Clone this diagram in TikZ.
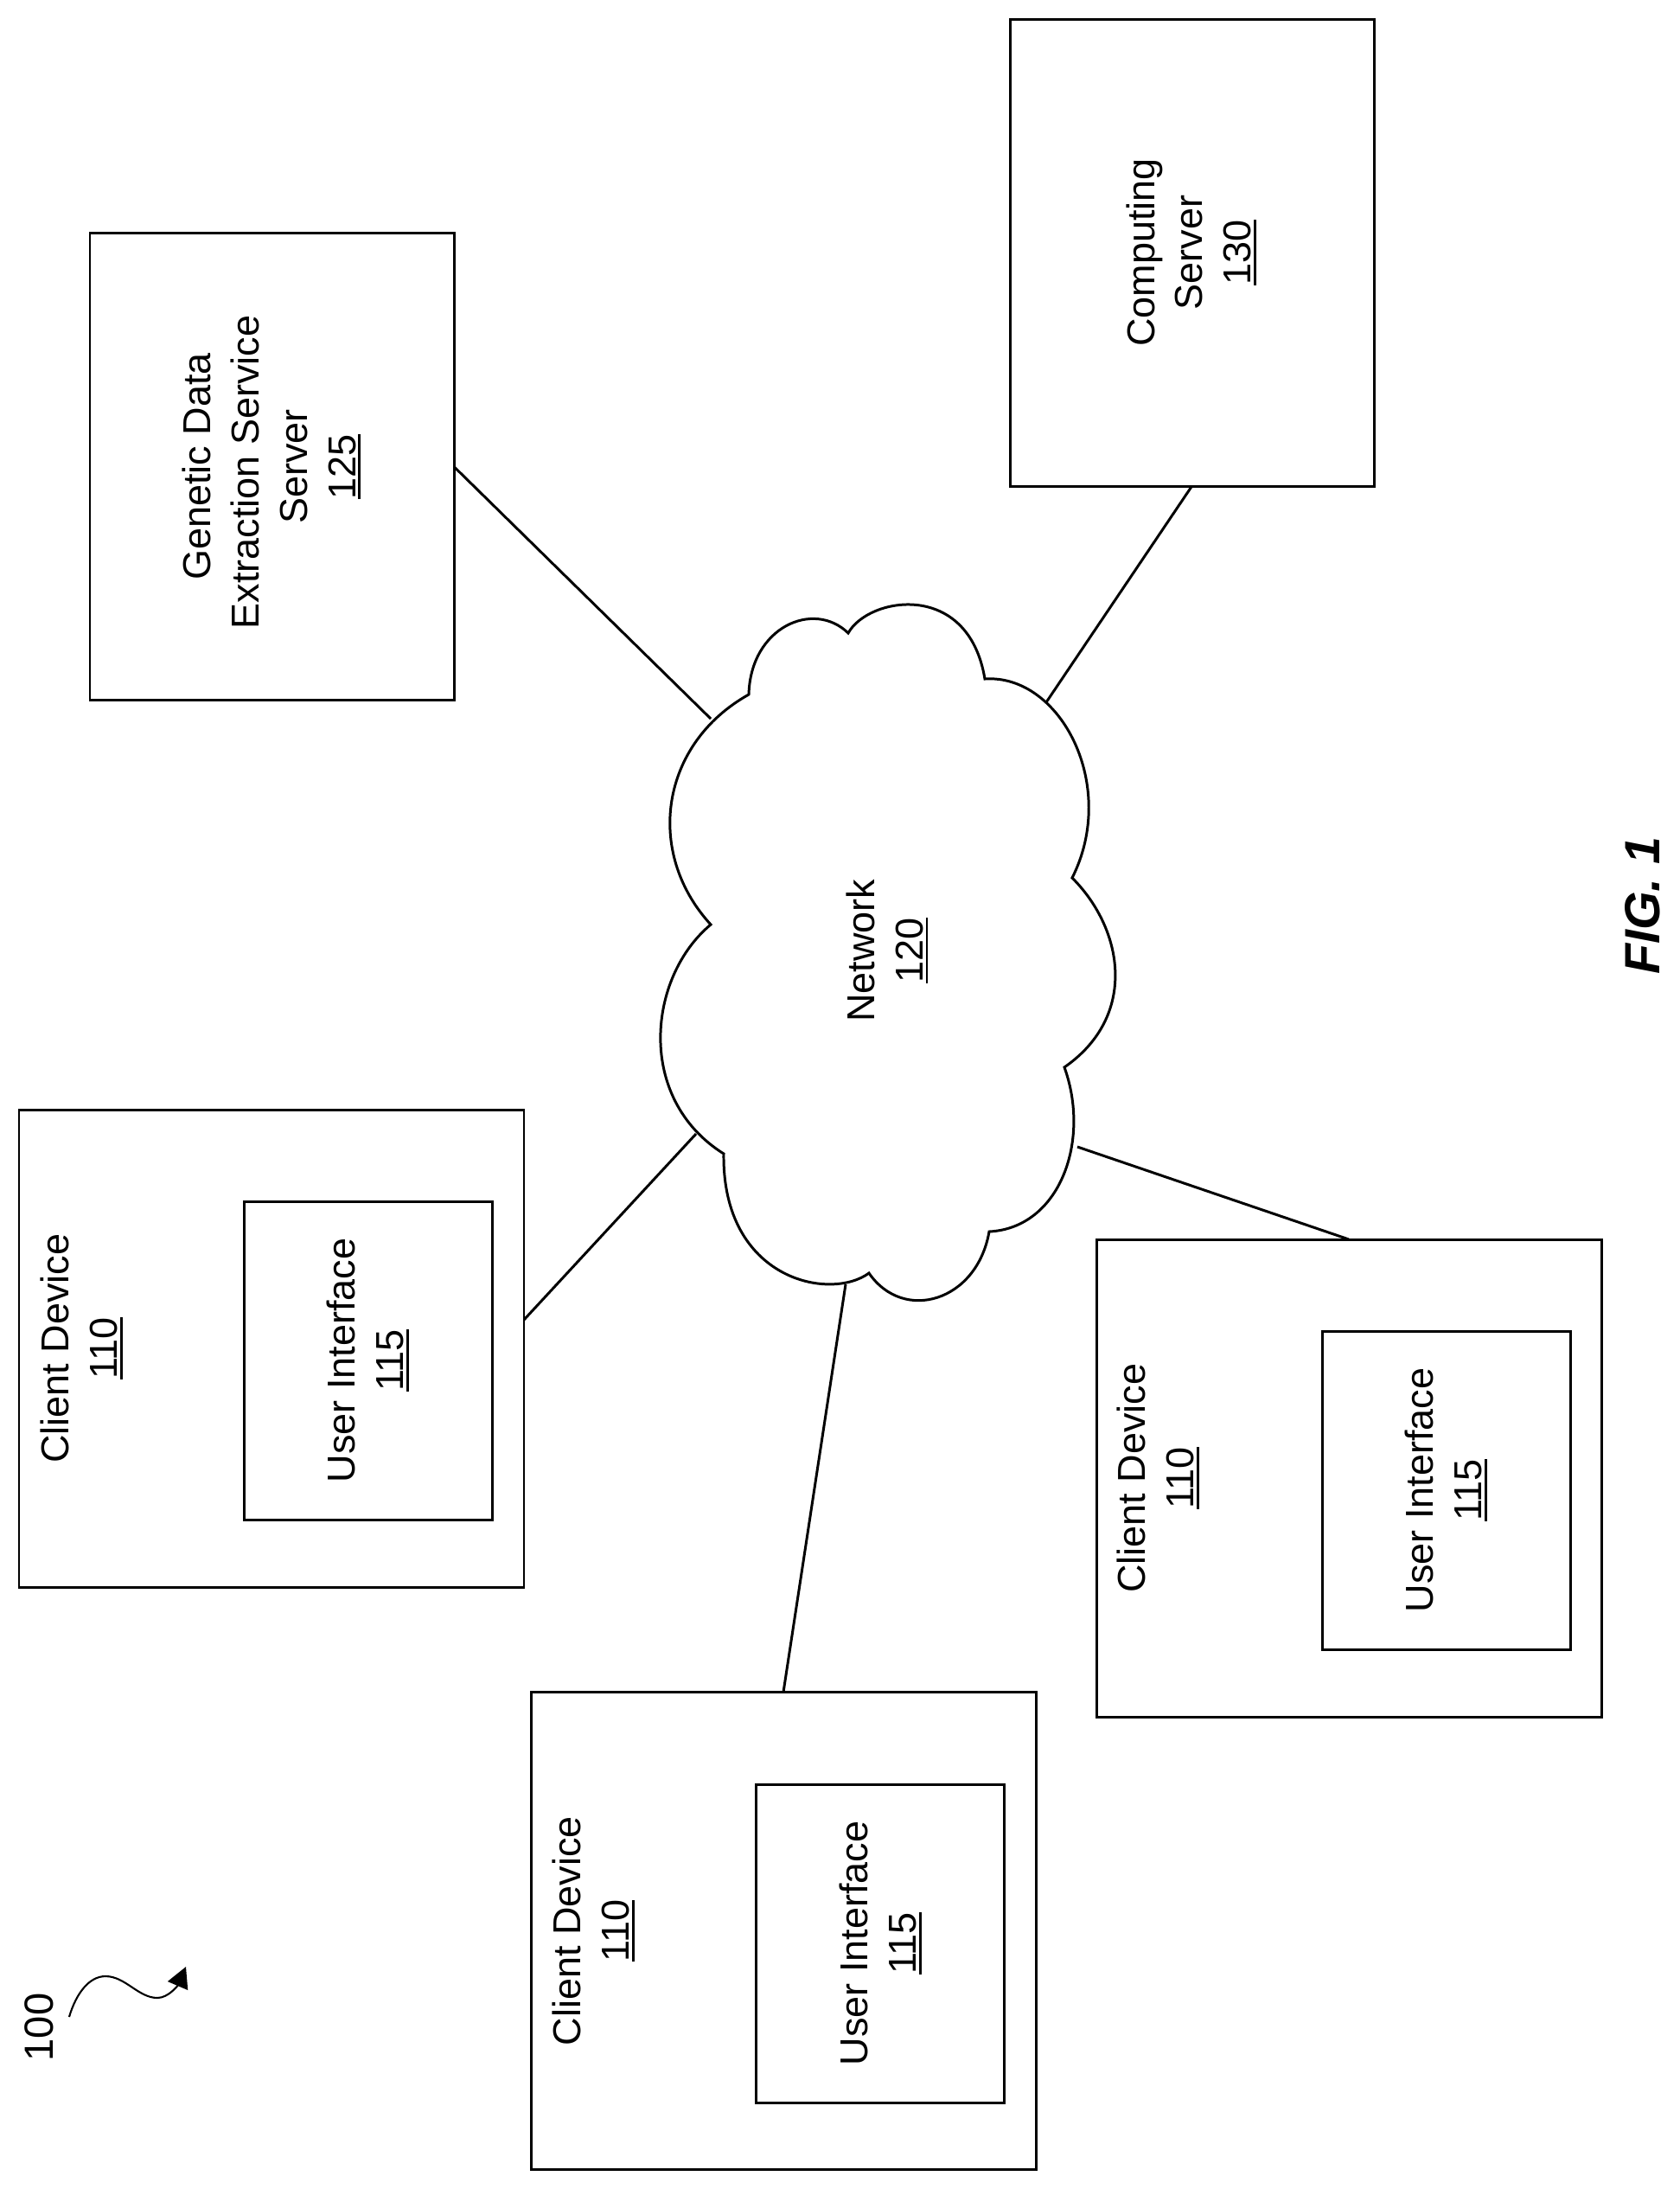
\documentclass[tikz,border=0pt]{standalone}
\usepackage{fontspec}
\setmainfont{Liberation Sans}
\usetikzlibrary{arrows.meta}
\newcommand{\refnum}[1]{\strut{\sbox0{#1}\rlap{\raisebox{-1.7pt}{\rule{\wd0}{.8pt}}}\usebox0}}
\tikzset{
  boxnode/.style={draw, line width=.85pt, outer sep=0pt, inner sep=0pt},
  clientbox/.style={boxnode, minimum width=5.84cm, minimum height=5.52cm},
  uibox/.style={boxnode, minimum width=2.87cm, minimum height=3.68cm},
  srvbox/.style={boxnode, minimum width=4.21cm, minimum height=5.4cm},
  lbl/.style={rotate=90, align=center, inner sep=0pt,
    font=\fontsize{12.8}{15.9}\selectfont, execute at begin node=\strut},
  wire/.style={line width=.85pt}
}
\begin{document}
\begin{tikzpicture}
\useasboundingbox (0,0) rectangle (19.42,-25.31);
%
%% Server
  \node[srvbox] (compsrv) at (13.785,-2.92) {};
  \node[lbl] (complbl) at (13.83,-2.92) {Computing\\Server\\\refnum{130}};
  \node[srvbox] (gensrv) at (3.145,-5.395) {};
  \node[lbl] (genlbl) at (3.195,-5.395)
    {Genetic Data\\Extraction Service\kern.278em\\Server\\\refnum{125}};
%
%% Client
  \node[clientbox] (clientA) at (3.14,-15.59) {};
  \node[lbl] (clientAlbl) at (1.00,-15.59) {Client Device\\\refnum{110}};
  \node[uibox] (uiA) at (4.26,-15.73) {};
  \node[lbl] (uiAlbl) at (4.31,-15.73) {User Interface\\\refnum{115}};
%
  \node[clientbox] (clientB) at (9.06,-22.325) {};
  \node[lbl] (clientBlbl) at (6.92,-22.325) {Client Device\\\refnum{110}};
  \node[uibox] (uiB) at (10.18,-22.47) {};
  \node[lbl] (uiBlbl) at (10.24,-22.47) {User Interface\\\refnum{115}};
%
  \node[clientbox] (clientC) at (15.6,-17.09) {};
  \node[lbl] (clientClbl) at (13.45,-17.09) {Client Device\\\refnum{110}};
  \node[uibox] (uiC) at (16.725,-17.23) {};
  \node[lbl] (uiClbl) at (16.78,-17.23) {User Interface\\\refnum{115}};
%
%% Rete
  \draw[line width=.85pt, line join=miter] (8.66,-8.03)
    .. controls (8.68,-7.25) and (9.41,-6.93) .. (9.81,-7.32)
    .. controls (10.04,-6.90) and (11.20,-6.70) .. (11.39,-7.85)
    .. controls (12.26,-7.79) and (12.94,-9.08) .. (12.40,-10.15)
    .. controls (13.00,-10.75) and (13.16,-11.75) .. (12.31,-12.34)
    .. controls (12.62,-13.20) and (12.25,-14.20) .. (11.44,-14.24)
    .. controls (11.30,-15.05) and (10.45,-15.30) .. (10.05,-14.72)
    .. controls (9.60,-15.05) and (8.35,-14.80) .. (8.37,-13.34)
    .. controls (7.35,-12.70) and (7.49,-11.30) .. (8.22,-10.69)
    .. controls (7.45,-9.85) and (7.64,-8.60) .. (8.66,-8.03)
    -- cycle;
  \node[lbl] (netlbl) at (10.315,-10.99) {Network\\\refnum{120}};
  \coordinate (netgen) at (8.22,-8.31);
  \coordinate (netcomp) at (12.10,-8.12);
  \coordinate (netA) at (8.05,-13.11);
  \coordinate (netB) at (9.78,-14.85);
  \coordinate (netC) at (12.46,-13.26);
  \coordinate (portA) at (6.06,-15.26);
%
%% Collegamenti
  \draw[wire] (gensrv.east) -- (netgen);
  \draw[wire] (compsrv.south) -- (netcomp);
  \draw[wire] (portA) -- (netA);
  \draw[wire] (clientB.north) -- (netB);
  \draw[wire] (clientC.north) -- (netC);
%
%% Riferimenti
  \node[rotate=90, inner sep=0pt, font=\fontsize{13.4}{16}\selectfont] (fignum) at (.45,-23.44) {100};
  \coordinate (sqstart) at (.80,-23.32);
  \coordinate (sqend) at (2.15,-22.74);
  \draw[line width=.6pt, -{Triangle[length=.24cm,width=.25cm]}] (sqstart)
    .. controls (.88,-23.05) and (1.03,-22.85) .. (1.22,-22.85)
    .. controls (1.45,-22.85) and (1.60,-23.10) .. (1.82,-23.10)
    .. controls (1.95,-23.10) and (2.06,-22.95) .. (sqend);
  \node[rotate=90, inner sep=0pt, font=\fontsize{16.3}{18}\selectfont\bfseries\itshape] (figlbl) at (19.00,-10.47) {FIG. 1};
\end{tikzpicture}
\end{document}
